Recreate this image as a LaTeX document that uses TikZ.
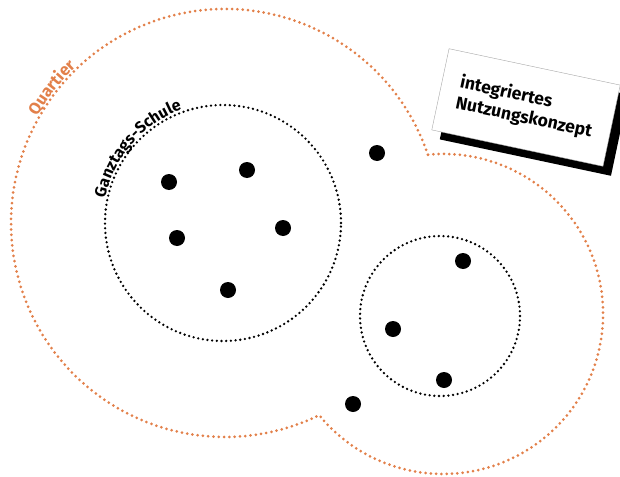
\documentclass[tikz,border=0pt]{standalone}
\usepackage{fontspec}
\setsansfont{Fira Sans}
\usetikzlibrary{decorations.text}
\definecolor{quartier}{RGB}{226,128,74}

\begin{document}
\begin{tikzpicture}[x=1pt, y=1pt,
    punkt/.style = {circle, fill=black, inner sep=0pt, minimum size=16pt},
    quartierlinie/.style = {draw=quartier, line width=3pt, line cap=round, dash pattern=on 0pt off 5.3pt},
    schullinie/.style = {draw=black, line width=2.6pt, line cap=round, dash pattern=on 0pt off 4.7pt},
    karte/.style = {minimum width=175pt, minimum height=83pt, inner sep=0pt, rotate=-12}]
    \useasboundingbox (0,0) rectangle (620,-476);

    % Quartier: two merged circles
    \draw[quartierlinie] (427.9,-154.8) arc[start angle=18.58, end angle=296.1, radius=214]
        arc[start angle=219.24, end angle=455.4, radius=160];
    \path[decorate, decoration={text along path, text align=center, text color=quartier,
        text={|\sffamily\bfseries\fontsize{16.5}{19}\selectfont|Quartier}}, shift={(225,-223)}]
        (164:216) arc[start angle=164, end angle=120, radius=216];

    % Schulen
    \draw[schullinie] (223,-223) circle[radius=118];
    \draw[schullinie] (440,-316) circle[radius=80];
    \path[decorate, decoration={text along path, text align=center,
        text={|\sffamily\bfseries\fontsize{16}{19}\selectfont|Ganztags-Schule}}, shift={(223,-223)}]
        (178:120.5) arc[start angle=178, end angle=100, radius=120.5];

    % Akteure
    \node[punkt] (p1) at (169,-182) {};
    \node[punkt] (p2) at (247,-170) {};
    \node[punkt] (p3) at (177,-238) {};
    \node[punkt] (p4) at (283,-228) {};
    \node[punkt] (p5) at (228,-290) {};
    \node[punkt] (p6) at (377,-153) {};
    \node[punkt] (p7) at (463,-261) {};
    \node[punkt] (p8) at (393,-329) {};
    \node[punkt] (p9) at (444,-380) {};
    \node[punkt] (p10) at (353,-404) {};

    % Nutzungskonzept
    \node[karte, fill=black] (schatten) at (534,-117) {};
    \node[karte, draw=gray!70, line width=0.4pt, fill=white, align=left,
        font=\sffamily\bfseries\fontsize{17.5}{21}\selectfont] (konzept) at (526,-107.5)
        {integriertes\\Nutzungskonzept};
\end{tikzpicture}
\end{document}
